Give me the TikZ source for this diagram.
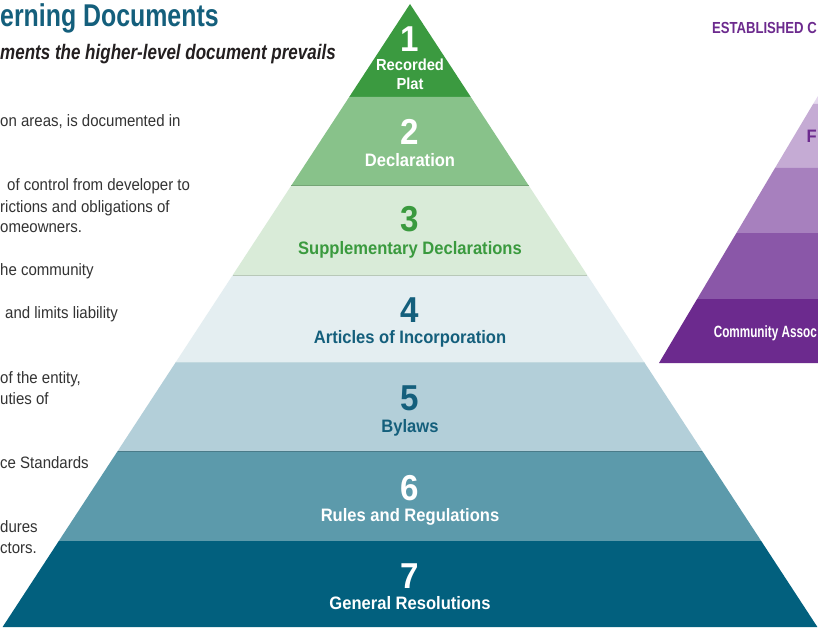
\documentclass[tikz,border=0pt]{standalone}
\usepackage{fontspec}
\setmainfont{Liberation Sans}
\newfontfamily\titfont[FakeStretch=0.79]{Liberation Sans}
\newfontfamily\subfont[FakeStretch=0.81]{Liberation Sans}
\newfontfamily\labfont[FakeStretch=0.92]{Liberation Sans}
\newfontfamily\bodyfont[FakeStretch=0.91]{Liberation Sans}
\newfontfamily\estfont[FakeStretch=0.82]{Liberation Sans}
\newfontfamily\comfont[FakeStretch=0.72]{Liberation Sans}
\definecolor{bA}{HTML}{3B9A40}
\definecolor{bB}{HTML}{88C28A}
\definecolor{bC}{HTML}{D9EBD8}
\definecolor{bD}{HTML}{E4EEF1}
\definecolor{bE}{HTML}{B3CFD9}
\definecolor{bF}{HTML}{5C9AAB}
\definecolor{bG}{HTML}{02607E}
\definecolor{tealtxt}{HTML}{145F7C}
\definecolor{greentxt}{HTML}{3A9A3E}
\definecolor{bodytxt}{HTML}{333333}
\definecolor{subtxt}{HTML}{231F20}
\definecolor{pA}{HTML}{E5D8EE}
\definecolor{pB}{HTML}{C5ABD4}
\definecolor{pC}{HTML}{A780BE}
\definecolor{pD}{HTML}{8A57A8}
\definecolor{pE}{HTML}{6C2A8E}
\tikzset{
  numtxt/.style={font=\labfont\bfseries\fontsize{36}{36}\selectfont, anchor=base, inner sep=0pt},
  labtxt/.style={font=\labfont\bfseries\fontsize{18}{18}\selectfont, anchor=base, inner sep=0pt},
  smalllab/.style={font=\labfont\bfseries\fontsize{16}{16}\selectfont, anchor=base, inner sep=0pt, text=white},
  bodyline/.style={font=\bodyfont\fontsize{16.5}{16.5}\selectfont, anchor=base west, inner sep=0pt, text=bodytxt},
  sepline/.style={line width=1pt}
}
\begin{document}
\begin{tikzpicture}[x=1pt,y=-1pt]
\useasboundingbox (0,0) rectangle (818,628);
\fill[white] (0,0) rectangle (818,628);

% ---- main pyramid bands ----
\fill[bA] (410,4) -- (470.8,97) -- (349.2,97) -- cycle;
\fill[bB] (349.2,97) -- (470.8,97) -- (529,186) -- (291,186) -- cycle;
\fill[bC] (291,186) -- (529,186) -- (587.2,275) -- (232.8,275) -- cycle;
\fill[bD] (232.8,275) -- (587.2,275) -- (644.1,362) -- (175.9,362) -- cycle;
\fill[bE] (175.9,362) -- (644.1,362) -- (702.3,451) -- (117.7,451) -- cycle;
\fill[bF] (117.7,451) -- (702.3,451) -- (761.2,541) -- (58.8,541) -- cycle;
\fill[bG] (58.8,541) -- (761.2,541) -- (817.4,627) -- (2.6,627) -- cycle;
\draw[sepline, color=bB!85!black] (291,186) -- (529,186);
\draw[sepline, color=bC!85!black] (232.8,275) -- (587.2,275);
\draw[sepline, color=bD!75!bF] (175.9,362) -- (644.1,362);
\draw[sepline, color=bF!80!black] (117.7,451) -- (702.3,451);

% ---- purple pyramid (partly visible) ----
\fill[pA] (813.1,104) -- (818,104) -- (818,96) -- cycle;
\fill[pB] (813.1,104) -- (818,104) -- (818,168) -- (775,168) -- cycle;
\fill[pC] (775,168) -- (818,168) -- (818,233) -- (736.4,233) -- cycle;
\fill[pD] (736.4,233) -- (818,233) -- (818,299) -- (697.1,299) -- cycle;
\fill[pE] (697.1,299) -- (818,299) -- (818,363) -- (659,363) -- cycle;

% ---- pyramid labels ----
\node[numtxt, text=white] (n1) at (410,52) {1};
\node[smalllab] (l1a) at (410,70.5) {Recorded};
\node[smalllab] (l1b) at (410,90) {Plat};
\node[numtxt, text=white] (n2) at (410,145) {2};
\node[labtxt, text=white] (l2) at (410,167) {Declaration};
\node[numtxt, text=greentxt] (n3) at (410,232) {3};
\node[labtxt, text=greentxt] (l3) at (410,254) {Supplementary Declarations};
\node[numtxt, text=tealtxt] (n4) at (410,322) {4};
\node[labtxt, text=tealtxt] (l4) at (410,343) {Articles of Incorporation};
\node[numtxt, text=tealtxt] (n5) at (410,410) {5};
\node[labtxt, text=tealtxt] (l5) at (410,432) {Bylaws};
\node[numtxt, text=white] (n6) at (410,500) {6};
\node[labtxt, text=white] (l6) at (410,521) {Rules and Regulations};
\node[numtxt, text=white] (n7) at (410,588) {7};
\node[labtxt, text=white] (l7) at (410,609) {General Resolutions};

% ---- left texts ----
\node[font=\titfont\bfseries\fontsize{31.5}{31.5}\selectfont, text=tealtxt, anchor=base west, inner sep=0pt] (title) at (0,26.7) {erning Documents};
\node[font=\subfont\bfseries\itshape\fontsize{21}{21}\selectfont, text=subtxt, anchor=base west, inner sep=0pt] (subtitle) at (0,60) {ments the higher-level document prevails};
\node[bodyline] (t1) at (0,127) {on areas, is documented in};
\node[bodyline] (t2) at (7,191) {of control from developer to};
\node[bodyline] (t3) at (0,212) {rictions and obligations of};
\node[bodyline] (t4) at (0,233) {omeowners.};
\node[bodyline] (t5) at (0,275) {he community};
\node[bodyline] (t6) at (5,318) {and limits liability};
\node[bodyline] (t7) at (0,383) {of the entity,};
\node[bodyline] (t8) at (0,404) {uties of};
\node[bodyline] (t9) at (0,468) {ce Standards};
\node[bodyline] (t10) at (0,532) {dures};
\node[bodyline] (t11) at (0,553) {ctors.};

% ---- right texts ----
\node[font=\estfont\bfseries\fontsize{16}{16}\selectfont, text=pE, anchor=base east, inner sep=0pt] (est) at (817,34) {ESTABLISHED C};
\node[font=\labfont\bfseries\fontsize{18}{18}\selectfont, text=pE, anchor=base east, inner sep=0pt] (pf) at (817,143) {F};
\node[font=\comfont\bfseries\fontsize{16.3}{16.3}\selectfont, text=white, anchor=base east, inner sep=0pt] (comm) at (817,337) {Community Assoc};
\end{tikzpicture}
\end{document}
